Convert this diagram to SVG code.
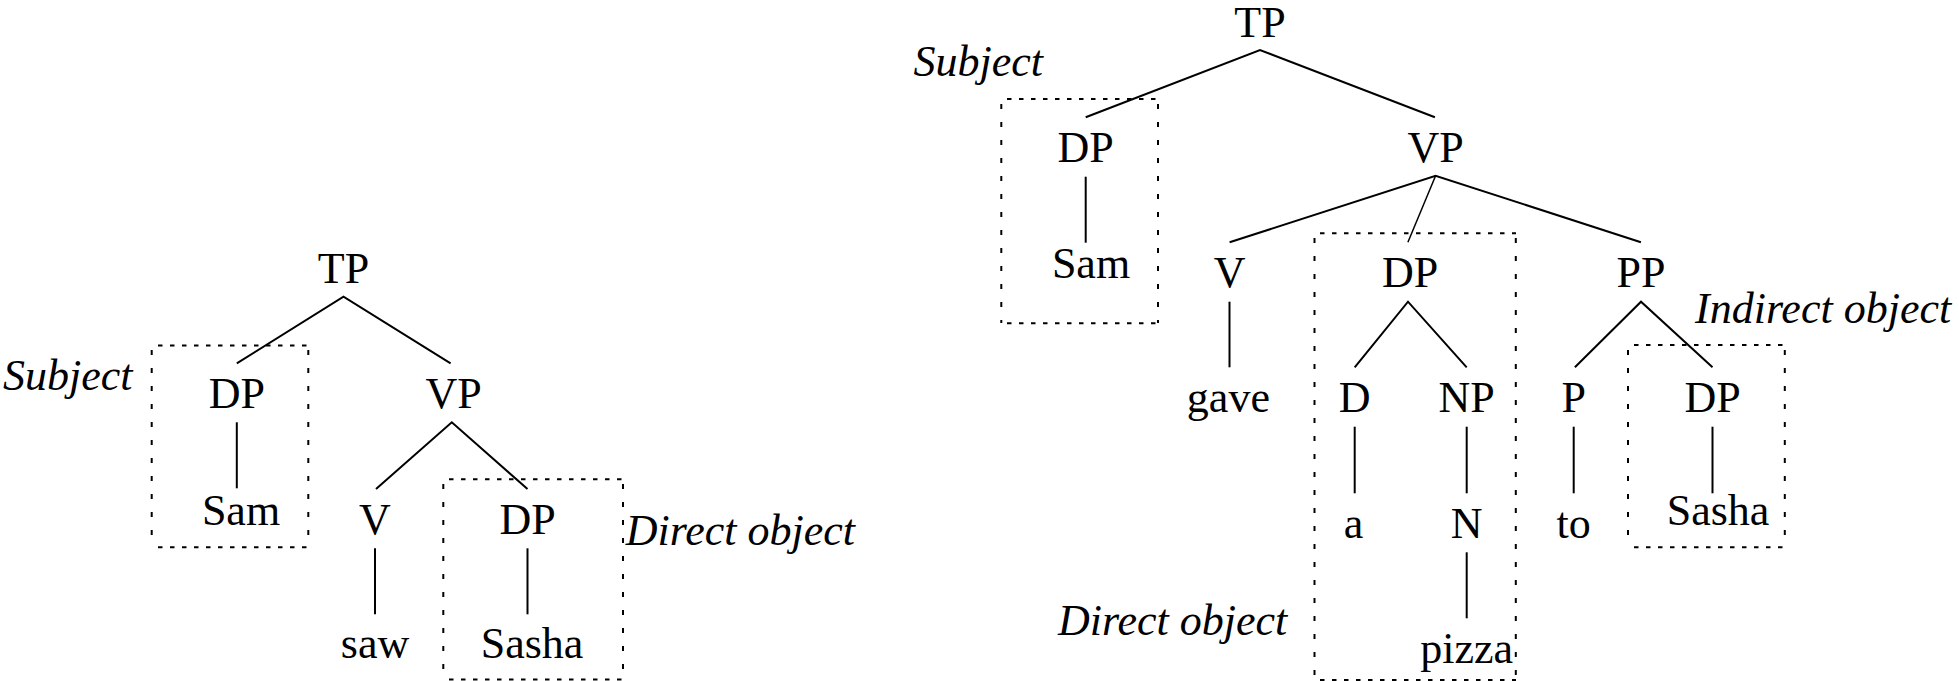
<svg xmlns="http://www.w3.org/2000/svg" width="1959" height="681" viewBox="0 0 1959 681">
<style>
text{font-family:"Liberation Serif","Times New Roman",serif;font-size:44px;fill:#000}
.n{text-anchor:middle}
.lab{font-style:italic}
.e{stroke:#000;stroke-width:2;fill:none}
.h{stroke:#000;stroke-width:2;fill:none;stroke-dasharray:4.5 7.5}
.v{stroke:#000;stroke-width:2;fill:none;stroke-dasharray:5 13}
</style>
<rect width="1959" height="681" fill="#fff"/>
<g id="connectors">
<path class="e" d="M236.8,363.3 L343.5,296.7 L450.6,363.3"/>
<path class="e" d="M236.8,422.3 V488.3"/>
<path class="e" d="M376,489 L451.8,422.3 L527.5,489"/>
<path class="e" d="M375,548.3 V614.3"/>
<path class="e" d="M527.5,548.3 V614.3"/>
<path class="e" d="M1085.7,117.3 L1260,50 L1434.9,117.3"/>
<path class="e" d="M1085.7,176.7 V242.7"/>
<path class="e" d="M1229.6,242.3 L1435.6,175.7 L1640.9,242.3"/>
<path class="e" d="M1435.6,175.7 L1407.9,242.3" style="stroke-width:1.5"/>
<path class="e" d="M1229.5,301.7 V367.3"/>
<path class="e" d="M1354.7,367.3 L1408,301.7 L1466.7,367.3"/>
<path class="e" d="M1574.9,367.3 L1641,301.7 L1712.5,367.3"/>
<path class="e" d="M1354.7,426.7 V493.3"/>
<path class="e" d="M1466.7,426.7 V493.3"/>
<path class="e" d="M1573.7,426.7 V493.3"/>
<path class="e" d="M1712.5,426.7 V493.3"/>
<path class="e" d="M1466.7,552.3 V618.3"/>
</g>
<g id="boxes">
<path class="h" d="M158,345.5 H308 M158,547.3 H308"/>
<path class="v" d="M151.7,350 V547 M308.3,350 V547"/>
<path class="h" d="M449,479.3 H623 M449,679.5 H623"/>
<path class="v" d="M443.3,484 V681 M623,484 V681"/>
<path class="h" d="M1007,99 H1158 M1007,323.3 H1158"/>
<path class="v" d="M1001.3,104 V323 M1158,104 V323"/>
<path class="h" d="M1320,233.3 H1516 M1320,680 H1516"/>
<path class="v" d="M1314.5,238 V681 M1515.8,238 V681"/>
<path class="h" d="M1634,345 H1785 M1634,547.3 H1785"/>
<path class="v" d="M1628,350 V547 M1784.8,350 V547"/>
</g>
<g id="left-tree">
<g id="l-tp"><text class="n" x="343.5" y="283">TP</text></g>
<g id="l-dp1"><text class="n" x="236.8" y="408">DP</text></g>
<g id="l-vp"><text class="n" x="453.5" y="408">VP</text></g>
<g id="l-sam"><text class="n" x="241" y="525">Sam</text></g>
<g id="l-v"><text class="n" x="375" y="534">V</text></g>
<g id="l-dp2"><text class="n" x="527.5" y="534">DP</text></g>
<g id="l-saw"><text class="n" x="375" y="658">saw</text></g>
<g id="l-sasha"><text class="n" x="532" y="658">Sasha</text></g>
<g id="l-subject"><text class="lab" x="3" y="390">Subject</text></g>
<g id="l-dobj"><text class="lab" x="625.7" y="545">Direct object</text></g>
</g>
<g id="right-tree">
<g id="r-tp"><text class="n" x="1260" y="36.7">TP</text></g>
<g id="r-dp1"><text class="n" x="1085.7" y="161.7">DP</text></g>
<g id="r-vp"><text class="n" x="1435.6" y="161.7">VP</text></g>
<g id="r-sam"><text class="n" x="1091" y="278.3">Sam</text></g>
<g id="r-v"><text class="n" x="1229.6" y="286.7">V</text></g>
<g id="r-dp2"><text class="n" x="1410" y="286.7">DP</text></g>
<g id="r-pp"><text class="n" x="1641" y="286.7">PP</text></g>
<g id="r-gave"><text class="n" x="1228.4" y="411.7">gave</text></g>
<g id="r-d"><text class="n" x="1354.7" y="411.7">D</text></g>
<g id="r-np"><text class="n" x="1466.7" y="411.7">NP</text></g>
<g id="r-p"><text class="n" x="1573.7" y="411.7">P</text></g>
<g id="r-dp3"><text class="n" x="1712.5" y="411.7">DP</text></g>
<g id="r-a"><text class="n" x="1353.5" y="538.3">a</text></g>
<g id="r-n"><text class="n" x="1466.7" y="538.3">N</text></g>
<g id="r-to"><text class="n" x="1573.7" y="538.3">to</text></g>
<g id="r-sasha"><text class="n" x="1718" y="525">Sasha</text></g>
<g id="r-pizza"><text class="n" x="1466.7" y="663.3">pizza</text></g>
<g id="r-subject"><text class="lab" x="913.5" y="76">Subject</text></g>
<g id="r-dobj"><text class="lab" x="1058" y="635">Direct object</text></g>
<g id="r-iobj"><text class="lab" x="1695" y="322.7">Indirect object</text></g>
</g>
</svg>
